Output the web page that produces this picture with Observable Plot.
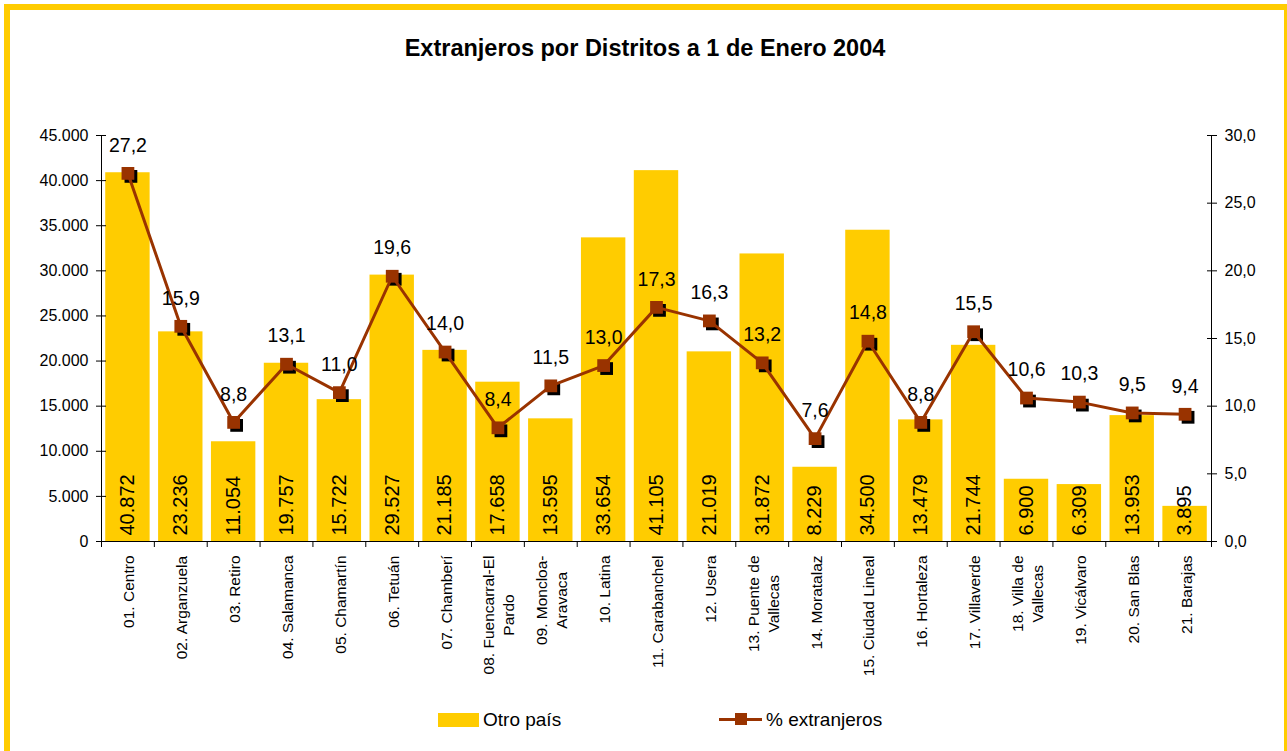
<!DOCTYPE html>
<html>
<head>
<meta charset="utf-8">
<script src="https://cdn.jsdelivr.net/npm/d3@7"></script>
<script src="https://cdn.jsdelivr.net/npm/@observablehq/plot@0.6"></script>
<style>
  body { margin: 0; background: #fff; font-family: "Liberation Sans", Arial, sans-serif; }
  #wrap { position: relative; width: 1287px; height: 751px; overflow: hidden; background: #fff; }
  #frame { position: absolute; left: 4px; top: 4px; width: 1286px; height: 800px; border: 6px solid #FFCC00; box-sizing: border-box; }
  #title { position: absolute; left: 0; top: 34px; width: 1290px; text-align: center; font-weight: bold; font-size: 23.5px; line-height: 28px; color: #000; }
  #chart { position: absolute; left: 0; top: 0; }
  .leg { position: absolute; font-size: 19px; line-height: 20px; color: #000; white-space: nowrap; }
</style>
</head>
<body>
<div id="wrap">
  <div id="frame"></div>
  <div id="title">Extranjeros por Distritos a 1 de Enero 2004</div>
  <div id="chart"></div>
  <div style="position:absolute;left:438px;top:713px;width:41px;height:14px;background:#FFCC00;"></div>
  <div class="leg" style="left:483px;top:710px;">Otro país</div>
  <div style="position:absolute;left:719px;top:717.5px;width:43px;height:3px;background:#993300;"></div>
  <div style="position:absolute;left:735px;top:713px;width:12px;height:12px;background:#993300;"></div>
  <div class="leg" style="left:766px;top:710px;">% extranjeros</div>
</div>
<script>
const districts = ["01. Centro","02. Arganzuela","03. Retiro","04. Salamanca","05. Chamartín","06. Tetuán","07. Chamberí","08. Fuencarral-El\nPardo","09. Moncloa-\nAravaca","10. Latina","11. Carabanchel","12. Usera","13. Puente de\nVallecas","14. Moratalaz","15. Ciudad Lineal","16. Hortaleza","17. Villaverde","18. Villa de\nVallecas","19. Vicálvaro","20. San Blas","21. Barajas"];
const otroPais = [40872,23236,11054,19757,15722,29527,21185,17658,13595,33654,41105,21019,31872,8229,34500,13479,21744,6900,6309,13953,3895];
const pctExtranjeros = [27.2,15.9,8.8,13.1,11.0,19.6,14.0,8.4,11.5,13.0,17.3,16.3,13.2,7.6,14.8,8.8,15.5,10.6,10.3,9.5,9.4];
const leftTicks = [0,5000,10000,15000,20000,25000,30000,35000,40000,45000];
const rightTicks = [0,5,10,15,20,25,30];
const leftMax = 45000, rightMax = 30;

const ratio = leftMax / rightMax;
const es = d3.formatLocale({decimal: ",", thousands: ".", grouping: [3], currency: ["", " €"]});
const fmtInt = es.format(",d");
const fmt1 = es.format(".1f");

const data = districts.map((name, i) => ({name, value: otroPais[i], pct: pctExtranjeros[i]}));

const W = 1287, H = 700, mL = 101, mR = 76, mT = 135, mB = 159;
const bw = (W - mL - mR) / districts.length;
const BROWN = "#993300", YELLOW = "#FFCC00";
const font = "'Liberation Sans', Arial, sans-serif";

const xFont = 15.5;
const ctx = document.createElement("canvas").getContext("2d");
ctx.font = `${xFont}px 'Liberation Sans', Arial`;
const xLabelMarks = districts.map(name => {
  const w = Math.max(...name.split("\n").map(s => ctx.measureText(s).width));
  return Plot.text([name], {
    x: d => d, y: () => 0, text: d => d, rotate: -90,
    textAnchor: "middle", lineAnchor: "middle", lineHeight: 1.3,
    dy: 14 + w / 2, fontSize: xFont, fill: "black"
  });
});

const chart = Plot.plot({
  width: W, height: H,
  marginLeft: mL, marginRight: mR, marginTop: mT, marginBottom: mB,
  style: {fontFamily: font, background: "transparent", overflow: "visible", color: "black"},
  x: {domain: districts, paddingInner: 0.16, paddingOuter: 0.08, round: false, axis: null},
  y: {domain: [0, leftMax], axis: null},
  marks: [
    Plot.barY(data, {x: "name", y: "value", fill: YELLOW}),
    Plot.text(data, {x: "name", y: () => 0, text: d => fmtInt(d.value), rotate: -90, textAnchor: "start", lineAnchor: "middle", dy: -6, fontSize: 20, fill: "black"}),
    Plot.ruleY([0], {stroke: "black", strokeWidth: 1}),
    Plot.ruleX(districts, {x: d => d, y1: () => 0, y2: () => 0, insetBottom: -6, dx: -bw / 2, stroke: "black"}),
    Plot.ruleX([districts[0]], {x: d => d, y1: () => leftMax, y2: () => 0, insetBottom: -6, dx: -bw / 2, stroke: "black"}),
    Plot.ruleX([districts[districts.length - 1]], {x: d => d, y1: () => leftMax, y2: () => 0, insetBottom: -6, dx: bw / 2, stroke: "black"}),
    Plot.axisY({anchor: "left", ticks: leftTicks, tickFormat: fmtInt, tickSize: 10, dx: 5, tickPadding: 8, fontSize: 16, label: null}),
    Plot.axisY({anchor: "right", ticks: rightTicks.map(v => v * ratio), tickFormat: d => fmt1(d / ratio), tickSize: 10, dx: -5, tickPadding: 8, fontSize: 16, label: null}),
    ...xLabelMarks,
    Plot.dot(data, {x: "name", y: d => d.pct * ratio, symbol: "square", r: 7.2, fill: "black", dx: 3, dy: 3}),
    Plot.line(data, {x: "name", y: d => d.pct * ratio, stroke: BROWN, strokeWidth: 3}),
    Plot.dot(data, {x: "name", y: d => d.pct * ratio, symbol: "square", r: 7.2, fill: BROWN}),
    Plot.text(data, {x: "name", y: d => d.pct * ratio, text: d => fmt1(d.pct), dy: -28, lineAnchor: "middle", fontSize: 19.5, fill: "black"})
  ]
});
document.getElementById("chart").appendChild(chart);
</script>
</body>
</html>
